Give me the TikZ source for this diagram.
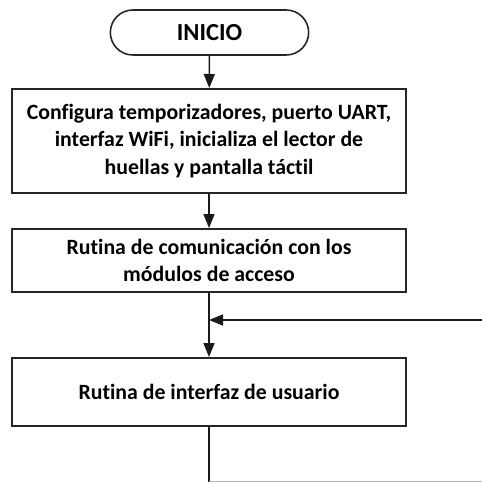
\documentclass[tikz,border=0pt]{standalone}
\usepackage{fontspec}
\setmainfont[Ligatures=NoCommon]{Carlito}
\usetikzlibrary{arrows.meta,shapes.misc}
\begin{document}
\begin{tikzpicture}[x=1pt,y=-1pt,
  procbox/.style={draw=black!85, line width=2pt, minimum width=394pt, align=center, font=\bfseries\fontsize{21.8}{27.5}\selectfont, inner sep=0pt},
  term/.style={draw=black!85, line width=1.6pt, rounded rectangle, minimum width=205pt, minimum height=45pt, font=\bfseries\fontsize{24.5}{28}\selectfont},
  flow/.style={draw=black!90, line width=1.6pt, -{Triangle[length=14pt,width=11pt]}},
  plain/.style={draw=black!90, line width=1.6pt}]
\useasboundingbox (0,0) rectangle (482,483);
\node[term] (ini) at (209.5,32.5) {INICIO};
\node[procbox, minimum height=104pt] (b1) at (209,141) {Configura temporizadores, puerto UART,\\interfaz WiFi, inicializa el lector de\\huellas y pantalla táctil};
\node[procbox, minimum height=63pt] (b2) at (209,260.5) {Rutina de comunicación con los\\módulos de acceso};
\node[procbox, minimum height=68pt] (b3) at (209,392) {Rutina de interfaz de usuario};
\coordinate (j) at (b2.south |- 0,320);
\coordinate (r) at (482,320);
\coordinate (d) at (b3.south |- 0,481.5);
\coordinate (dr) at (482,481.5);
\draw[flow] (ini) -- (b1);
\draw[flow] (b1) -- (b2);
\draw[flow] (b2) -- (b3);
\draw[flow] (r) -- (j);
\draw[plain] (b3.south) -- (d);
\draw[draw=black!30, line width=1pt] (d) -- (dr);
\end{tikzpicture}
\end{document}
